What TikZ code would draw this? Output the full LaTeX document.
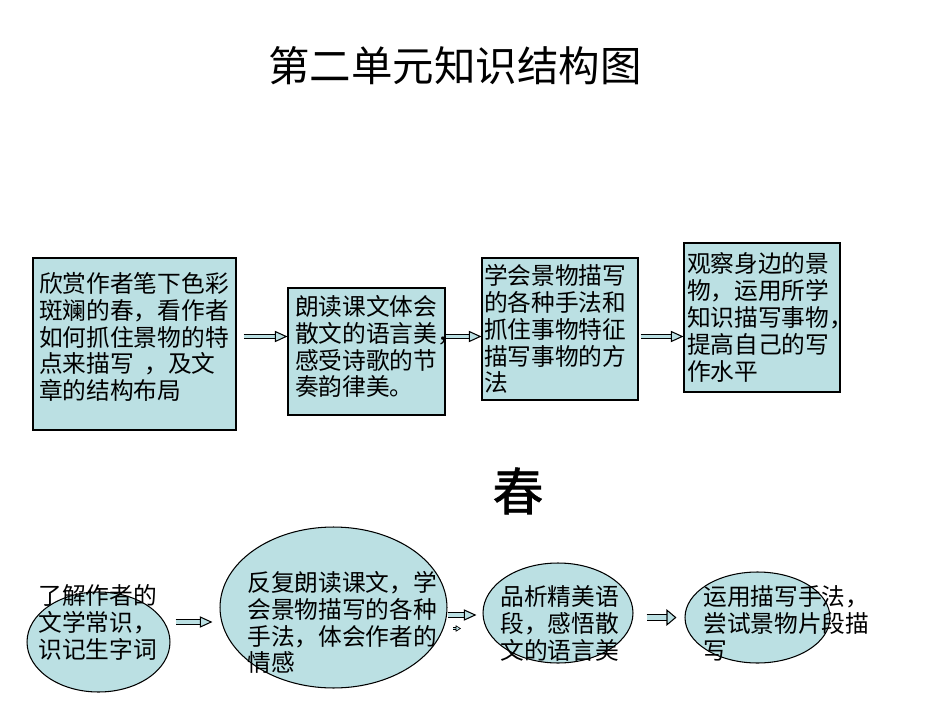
\documentclass[tikz,border=0pt]{standalone}
\usepackage{fontspec}
\setmainfont{Noto Sans CJK SC}
\newfontfamily\chunfont[FakeBold=1.2]{Noto Sans CJK SC}
\usepackage{tikz}
\usetikzlibrary{arrows.meta, shapes.geometric, positioning, calc}
\usepackage{xcolor}
\definecolor{boxfill}{RGB}{187,224,227}
\newcommand{\zwfont}{\fontsize{13.5pt}{15.3pt}\selectfont}

\begin{document}
\begin{tikzpicture}[x=0.02cm, y=-0.02cm,
    box/.style={rectangle, draw, fill=boxfill, line width=0.6pt, align=left, inner sep=0pt, font=\zwfont},
    stage/.style={ellipse, draw, fill=boxfill, line width=0.6pt, inner sep=0pt},
    txt/.style={align=left, inner sep=0pt, font=\zwfont},
    flow/.style={draw=black, line width=0.6pt, double=boxfill, double distance=2.2pt,
        -{Triangle[open, fill=boxfill, length=7.2pt, width=6.4pt, line width=0.6pt]}},
    bigflow/.style={flow, double distance=2.8pt,
        -{Triangle[open, fill=boxfill, length=5.7pt, width=9.4pt, line width=0.6pt]}},
    tinyflow/.style={flow, line width=0.35pt, double distance=1pt,
        -{Triangle[open, fill=boxfill, length=3pt, width=3.6pt, line width=0.35pt]}}
]
\useasboundingbox (0,0) rectangle (950,713);

% 标题
\node[font=\fontsize{23.6pt}{26pt}\selectfont, inner sep=0pt] (title) at (455,66) {第二单元知识结构图};
\node[font=\fontsize{29pt}{32pt}\chunfont, inner sep=0pt] (chun) at (518,491) {春};

% 教学目标
\node[box, minimum width=4.06cm, minimum height=3.44cm, text width=3.82cm] (b1) at (134.5,344)
    {欣赏作者笔下色彩\\斑斓的春，看作者\\如何抓住景物的特\\点来描写\hspace{0.45em}，及文\\章的结构布局\\[-0.22cm]\mbox{}};
\node[box, minimum width=3.14cm, minimum height=2.54cm, text width=2.86cm] (b2) at (366.5,351.5)
    {朗读课文体会\\散文的语言美，\\感受诗歌的节\\奏韵律美。\\[-0.3cm]\mbox{}};
\node[box, minimum width=3.12cm, minimum height=2.84cm, text width=3.04cm] (b3) at (560,329)
    {学会景物描写\\的各种手法和\\抓住事物特征\\描写事物的方\\法};
\node[box, minimum width=3.12cm, minimum height=2.98cm, text width=3.0cm] (b4) at (762,317.5)
    {观察身边的景\\物，运用所学\\知识描写事物，\\提高自己的写\\作水平};

% 学习步骤
\node[stage, minimum width=2.86cm, minimum height=2.0cm] (e1) at (98.5,642) {};
\node[stage, minimum width=4.54cm, minimum height=3.22cm] (e2) at (333.5,607.5) {};
\node[stage, minimum width=3.0cm, minimum height=2.0cm] (e3) at (558,613) {};
\node[stage, minimum width=2.9cm, minimum height=1.82cm] (e4) at (757.5,617.5) {};

\node[txt, anchor=west] (t1) at (38,622.5) {了解作者的\\文学常识，\\识记生字词};
\node[txt, anchor=west] (t2) at (247,622.5) {反复朗读课文，学\\会景物描写的各种\\手法，体会作者的\\情感};
\node[txt, anchor=west] (t3) at (500,623.5) {品析精美语\\段，感悟散\\文的语言美};
\node[txt, anchor=west] (t4) at (703,623.5) {运用描写手法，\\尝试景物片段描\\写};

% 箭头
\coordinate (row) at (0,336.5);
\draw[flow, shorten <=0.14cm] (b1.east |- row) -- (b2.west |- row);
\draw[flow] (b2.east |- row) -- (b3.west |- row);
\draw[flow, shorten <=0.04cm] (b3.east |- row) -- (b4.west |- row);

\coordinate (low1) at (0,622);
\coordinate (low2) at (0,615);
\coordinate (low3) at (0,617.5);
\draw[flow, shorten <=0.1cm, shorten >=0.14cm] (e1.east |- low1) -- (e2.west |- low1);
\draw[flow, shorten >=0.12cm] (e2.east |- low2) -- (e3.west |- low2);
\draw[bigflow, shorten <=0.26cm, shorten >=0.16cm] (e3.east |- low3) -- (e4.west |- low3);

\coordinate (s1) at (453,628.5);
\coordinate (s2) at (461,628.5);
\draw[tinyflow] (s1) -- (s2);
\end{tikzpicture}
\end{document}
